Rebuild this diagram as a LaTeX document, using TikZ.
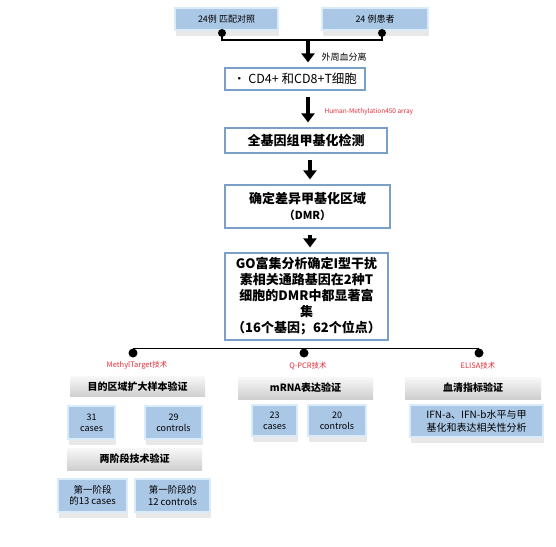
\documentclass[tikz,border=0pt]{standalone}
\usepackage{fontspec}
\setmainfont{Noto Sans CJK SC}
\usetikzlibrary{arrows.meta, positioning, calc, shadows}
\definecolor{azulcaja}{RGB}{170,199,230}
\definecolor{bordeazul}{RGB}{218,235,250}
\definecolor{marco}{RGB}{122,160,200}
\definecolor{rojo}{RGB}{225,45,55}

\begin{document}
\begin{tikzpicture}[x=1pt, y=-1pt,
    paso/.style={draw=marco, line width=1.2pt, fill=white, align=center, inner sep=2pt, font=\fontsize{13}{16}\selectfont\bfseries},
    bisel/.style={fill=azulcaja, draw=bordeazul, line width=2pt, align=center, inner sep=1pt, font=\fontsize{9}{11}\selectfont, drop shadow={shadow xshift=1pt, shadow yshift=-6pt, opacity=.18}},
    gris/.style={top color=gray!6, bottom color=gray!38, align=center, inner sep=1pt, font=\fontsize{10}{12}\selectfont\bfseries},
    flecha/.style={-{Triangle[length=9pt, width=13pt]}, line width=3.2pt, shorten <=6pt, shorten >=5pt},
    tecnica/.style={text=rojo, font=\fontsize{7.5}{8}\selectfont},
    punto/.style={circle, fill=black, inner sep=0pt, minimum size=9pt}]
        \useasboundingbox (0,0) rectangle (556,546);
        \node[bisel, minimum width=103pt, minimum height=22pt] (ctrl) at (226.5,19) {24例 匹配对照};
        \node[bisel, minimum width=106pt, minimum height=22pt] (pac) at (375,19) {24 例患者};
        \node[punto, minimum size=8pt] (d1) at (222,33) {};
        \node[punto, minimum size=8pt] (d2) at (382,33) {};
        \coordinate (une) at (308,40);
        \coordinate (eje) at (310,0);
        \draw[line width=1.6pt] (d1.center) |- (une) -| (d2.center);
        \node[paso, font=\fontsize{12.5}{15}\selectfont, minimum width=140pt, minimum height=22pt] (cel) at (295,79) {• CD4+ 和CD8+T细胞};
        \node[paso, minimum width=162pt, minimum height=25pt] (scan) at (306,140.5) {全基因组甲基化检测};
        \node[paso, minimum width=165pt, minimum height=43pt] (dmr) at (307.5,206.5) {确定差异甲基化区域\\{\fontsize{11}{14}\selectfont（DMR）}};
        \node[paso, minimum width=163pt, minimum height=87pt] (go) at (306.5,296.5) {GO富集分析确定I型干扰\\素相关通路基因在2种T\\细胞的DMR中都显著富\\集\\（16个基因；62个位点）};
        \draw[flecha, shorten <=0pt] (une) -- (une |- cel.north);
        \draw[flecha] (cel.south -| une) -- (scan.north -| une);
        \draw[flecha] (scan.south -| eje) -- (dmr.north -| eje);
        \draw[flecha] (dmr.south -| eje) -- (go.north -| eje);
        \node[font=\fontsize{9}{10}\selectfont, anchor=west] (sep) at (318,57) {外周血分离};
        \node[tecnica, font=\fontsize{6.5}{7}\selectfont, anchor=west] (chip) at (321,112) {Human-Methylation450 array};
        \node[punto] (r1) at (133,353) {};
        \node[punto] (r2) at (304,353) {};
        \node[punto] (r3) at (479,353) {};
        \draw[line width=1.6pt] (r1.north) -- (r3.north);
        \node[tecnica] (t1) at (137,365) {MethylTarget技术};
        \node[tecnica] (t2) at (308,366) {Q-PCR技术};
        \node[tecnica] (t3) at (478,366) {ELISA技术};
        \node[gris, minimum width=135pt, minimum height=20pt] (g1) at (137.5,386.5) {目的区域扩大样本验证};
        \node[gris, minimum width=135pt, minimum height=22pt] (g2) at (305.5,388) {mRNA表达验证};
        \node[gris, minimum width=136pt, minimum height=22pt] (g3) at (473,388) {血清指标验证};
        \node[bisel, minimum width=47pt, minimum height=33pt] (b31) at (91.5,422.5) {31\\cases};
        \node[bisel, minimum width=57pt, minimum height=33pt] (b29) at (173.5,422.5) {29\\controls};
        \node[bisel, minimum width=45pt, minimum height=31pt] (b23) at (274.5,420.5) {23\\cases};
        \node[bisel, minimum width=58pt, minimum height=31pt] (b20) at (337,420.5) {20\\controls};
        \node[bisel, font=\fontsize{10}{12.5}\selectfont, minimum width=133pt, minimum height=32pt] (ifn) at (476.5,421) {IFN-a、IFN-b水平与甲\\基化和表达相关性分析};
        \node[gris, minimum width=135pt, minimum height=22pt] (g4) at (134.5,459) {两阶段技术验证};
        \node[bisel, font=\fontsize{9.5}{11.5}\selectfont, minimum width=69pt, minimum height=33pt] (s13) at (92.5,495.5) {第一阶段\\的13 cases};
        \node[bisel, font=\fontsize{9.5}{11.5}\selectfont, minimum width=75pt, minimum height=33pt] (s12) at (172.5,495.5) {第一阶段的\\12 controls};
    \end{tikzpicture}
\end{document}
